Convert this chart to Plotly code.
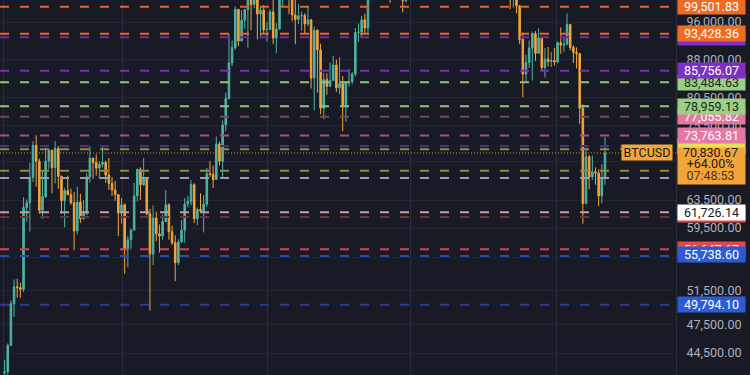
import math
import pandas as pd
import plotly.graph_objects as go

# ---------------- data (BTCUSD, 4-day candles, values in thousands USD) ----------------
start_date = "2024-02-01"
period_days = 4
first_open_k = 42.5

close_k = [42.6, 45.3, 49.9, 51.9, 51.8, 51.6, 62.4, 63.1, 66.9, 72.1,
           69.5, 62.0, 64.0, 69.5, 71.3, 68.5, 71.6, 67.1, 63.4, 64.9,
           64.3, 63.1, 59.1, 63.2, 60.8, 61.6, 67.0, 70.0, 69.3, 68.4,
           69.0, 69.3, 67.3, 66.0, 65.0, 64.3, 61.6, 62.8, 56.6, 57.9,
           59.2, 64.1, 68.2, 65.8, 66.8, 61.5, 56.0, 60.9, 58.7, 58.4,
           60.4, 62.8, 59.0, 57.5, 54.9, 57.6, 59.2, 62.9, 63.3, 65.8,
           60.8, 62.1, 61.9, 62.9, 67.5, 67.4, 66.6, 72.3, 69.5, 75.6,
           80.4, 87.3, 90.5, 98.9, 91.9, 96.4, 98.8, 101.1, 100.0, 106.0,
           97.8, 98.7, 94.3, 94.4, 98.3, 92.5, 94.5, 104.5, 106.1, 104.7,
           103.7, 97.6, 96.6, 97.4, 97.5, 95.6, 96.5, 84.3, 94.2, 90.0,
           78.6, 84.0, 82.7, 83.8, 86.9, 82.4, 83.2, 79.2, 83.4, 83.6,
           85.1, 93.7, 93.8, 96.5, 94.7, 102.9, 104.1, 103.5, 109.7, 109.0,
           105.6, 105.8, 104.3, 110.2, 105.6, 104.8, 100.9, 107.1, 107.2, 108.0,
           108.9, 117.4, 119.0, 117.3, 118.4, 118.1, 113.3, 114.1, 116.6, 123.0,
           117.4, 112.5, 110.9, 108.4, 111.2, 110.2, 113.9, 115.3, 117.1, 112.7,
           109.6, 114.0, 122.3, 123.3, 115.2, 108.2, 110.6, 111.1, 114.1, 110.1,
           103.9, 104.7, 99.7, 92.2, 85.1, 87.4, 90.4, 93.5, 89.3, 92.5,
           86.4, 88.1, 87.6, 87.8, 87.5, 91.5, 91.0, 91.2, 95.5, 90.5,
           89.5, 89.2, 78.6, 63.0, 70.2, 67.0, 67.8, 67.6, 64.1, 66.9,
           70.83067]

high_k = [43.8, 45.5, 50.3, 52.8, 52.9, 52.4, 63.9, 63.6, 69.2, 72.8,
          73.8, 69.9, 68.1, 71.7, 71.5, 71.3, 72.8, 72.0, 67.2, 65.3,
          67.2, 65.2, 64.7, 65.5, 64.4, 63.5, 67.6, 71.9, 70.0, 70.6,
          69.5, 72.0, 69.6, 70.0, 67.0, 66.4, 64.3, 63.8, 63.0, 58.4,
          59.4, 66.1, 68.3, 68.5, 70.0, 67.0, 62.2, 62.7, 61.8, 60.0,
          61.4, 65.0, 63.0, 59.8, 58.5, 58.0, 60.6, 63.8, 64.1, 66.5,
          66.0, 62.4, 64.5, 64.2, 68.4, 69.5, 68.8, 73.6, 72.7, 76.4,
          81.5, 93.5, 92.0, 99.6, 98.9, 98.7, 99.0, 103.9, 101.9, 107.8,
          108.3, 99.5, 99.9, 96.0, 98.9, 102.7, 95.8, 105.9, 109.1, 107.0,
          105.3, 106.4, 102.5, 100.1, 98.4, 98.0, 99.5, 96.7, 95.0, 94.4,
          91.3, 85.3, 85.2, 87.4, 88.8, 88.0, 88.5, 84.7, 83.6, 86.1,
          85.5, 94.7, 95.7, 97.4, 97.9, 104.1, 105.8, 104.3, 110.0, 111.9,
          110.6, 106.5, 106.8, 110.4, 110.4, 108.9, 106.1, 108.2, 108.5, 110.5,
          109.8, 118.9, 123.2, 120.9, 120.2, 120.0, 119.3, 115.8, 117.9, 123.1,
          124.5, 117.6, 117.4, 113.4, 111.4, 113.4, 114.3, 116.8, 117.9, 117.6,
          113.8, 114.7, 123.9, 126.2, 123.8, 116.0, 111.7, 114.0, 116.4, 115.9,
          111.2, 104.8, 107.0, 99.9, 93.7, 89.0, 92.0, 93.9, 94.0, 94.6,
          92.8, 90.4, 90.6, 89.6, 90.4, 91.8, 94.8, 92.5, 97.9, 95.6,
          91.0, 90.5, 89.3, 79.3, 71.7, 70.5, 70.4, 68.5, 68.2, 69.0,
          73.5]

low_k = [41.9, 42.3, 45.3, 48.4, 50.6, 50.6, 51.3, 60.4, 59.0, 66.2,
         65.5, 61.5, 60.8, 63.8, 68.2, 64.5, 66.0, 65.2, 61.5, 59.6,
         64.2, 62.8, 56.5, 58.6, 60.2, 60.7, 61.3, 66.1, 66.7, 67.2,
         66.7, 68.5, 66.1, 65.0, 64.1, 63.4, 58.4, 60.1, 53.5, 54.3,
         56.6, 59.2, 63.3, 63.5, 65.6, 61.3, 49.1, 54.6, 57.7, 56.2,
         57.9, 60.4, 57.9, 57.2, 52.6, 54.6, 57.5, 57.5, 62.4, 62.7,
         60.2, 59.9, 61.6, 58.9, 62.5, 67.0, 65.3, 66.8, 68.8, 66.8,
         74.5, 80.2, 86.7, 90.0, 90.8, 91.8, 94.5, 90.5, 94.2, 99.2,
         92.2, 92.4, 93.5, 91.8, 94.2, 91.2, 89.3, 94.3, 99.5, 101.3,
         97.8, 96.2, 91.2, 95.6, 94.1, 93.3, 95.1, 82.3, 78.2, 81.5,
         77.5, 76.6, 81.1, 82.6, 83.8, 81.6, 81.2, 74.5, 76.2, 82.6,
         83.1, 84.6, 91.7, 92.8, 93.4, 93.4, 101.0, 101.3, 102.0, 106.5,
         105.3, 103.1, 100.4, 104.0, 103.4, 103.6, 98.2, 100.5, 106.4, 105.1,
         107.3, 108.4, 115.7, 116.5, 115.8, 114.7, 112.7, 112.0, 113.0, 117.8,
         116.8, 112.4, 110.5, 107.3, 107.3, 109.3, 110.1, 113.4, 114.4, 112.0,
         108.7, 109.2, 113.9, 120.6, 102.0, 107.9, 103.5, 107.3, 110.8, 106.3,
         98.9, 99.3, 98.0, 91.2, 80.6, 83.6, 86.3, 83.8, 87.7, 89.5,
         85.8, 84.4, 86.6, 86.5, 86.8, 87.2, 89.2, 89.5, 91.0, 89.9,
         87.3, 86.2, 75.8, 60.1, 62.9, 65.1, 66.5, 65.8, 62.6, 63.0,
         65.8]

# horizontal price levels (drawn lines) and their colours
level_values = [99501.83, 93428.36, 92671.50, 85756.07, 83484.63, 78959.13,
                77055.82, 73763.81, 71988.20, 71440.00, 67950.00, 66830.00,
                61726.14, 61040.00, 56647.67, 55738.60, 49794.10]
level_colors = ["#e2642c", "#e8672b", "#6b2ca6", "#7a2cb8", "#8cc47c", "#8cc47c",
                "#7c4459", "#a44f8e", "#4b2d8a", "#8f8c3c", "#8f8c3c", "#9c9eaa",
                "#a6a8b2", "#7c2c30", "#d94444", "#2c4cae", "#263f92"]

# price labels on the scale, in drawing order (later ones cover earlier ones).
# Empty text = label fully covered in the reference, only its coloured edge shows.
label_values = [92671.50, 99501.83, 93428.36, 83484.63, 85756.07, 77055.82, 78959.13,
                71440.00, 73763.81, 61040.00, 61726.14, 56647.67, 55738.60, 49794.10]
label_texts = ["", "99,501.83", "93,428.36", "83,484.63", "85,756.07", "77,055.82",
               "78,959.13", "", "73,763.81", "", "61,726.14", "56,647.67",
               "55,738.60", "49,794.10"]
label_bg = ["#7d2fc6", "#ee6c22", "#ee6c22", "#9ccf86", "#7e2fc4", "#e8779f", "#9ccf86",
            "#e9e24c", "#e27aa6", "#e34646", "#ffffff", "#e64848", "#2b5bd9", "#2b5bd9"]
label_fg = ["#ffffff", "#ffffff", "#ffffff", "#1b2a16", "#ffffff", "#ffffff", "#1b2a16",
            "#2a2a10", "#ffffff", "#ffffff", "#131722", "#ffffff", "#ffffff", "#ffffff"]
label_nudge = [0, 0, 0, 0, 0, 0, 0, 3, 0, 3, 0, 0, 2, 0]

last_price = 70830.67
last_change = "+64.00%"
last_countdown = "07:48:53"
symbol = "BTCUSD"

# right-scale ticks (texts of ticks that sit fully under a price label are blank)
tick_values = [96000, 88000, 80500, 75500, 69500, 63500, 59500, 55500, 51500, 47500, 44500]
tick_hidden = [69500, 55500]
tick_texts = ["" if v in tick_hidden else f"{v:,.2f}" for v in tick_values]
vgrid_dates = ["2024-02-01", "2024-07-01", "2025-01-01", "2025-07-01", "2026-01-01"]

# ---------------- styling ----------------
BG = "#181b26"
UP = "#4fb3a2"
DOWN = "#f2a53a"
FONT = "Roboto"
y_lo, y_hi = 42287, 101060
t0 = pd.Timestamp(start_date)
x_lo = t0 - pd.Timedelta(days=3.8)
x_hi = t0 + pd.Timedelta(days=851.9)

n = len(close_k)
dates = [t0 + pd.Timedelta(days=period_days * i + period_days / 2) for i in range(n)]
opens = [first_open_k] + close_k[:-1]
o = [v * 1000 for v in opens]
c = [v * 1000 for v in close_k]
h = [max(a, b, v * 1000) for a, b, v in zip(o, c, high_k)]
l = [min(a, b, v * 1000) for a, b, v in zip(o, c, low_k)]

fig = go.Figure()
fig.add_trace(go.Candlestick(
    x=dates, open=o, high=h, low=l, close=c,
    increasing=dict(line=dict(color=UP, width=1), fillcolor=UP),
    decreasing=dict(line=dict(color=DOWN, width=1), fillcolor=DOWN),
    whiskerwidth=0, hoverinfo="skip", showlegend=False,
))

for v, col in zip(level_values, level_colors):
    fig.add_trace(go.Scatter(
        x=[x_lo, x_hi], y=[v, v], mode="lines",
        line=dict(color=col, width=2, dash="9px,11px"),
        hoverinfo="skip", showlegend=False,
    ))

fig.add_trace(go.Scatter(
    x=[x_lo, x_hi], y=[last_price, last_price], mode="lines",
    line=dict(color="#d08f34", width=1, dash="1px,2px"),
    hoverinfo="skip", showlegend=False,
))

annotations = []
label_font = dict(family=FONT, size=12.5)
for v, txt, bg, fg, nud in zip(label_values, label_texts, label_bg, label_fg, label_nudge):
    annotations.append(dict(
        xref="paper", yref="y", x=1, y=math.log10(v), xanchor="left", yanchor="middle",
        xshift=1, yshift=nud, text=txt if txt else " ", showarrow=False, width=65, height=13,
        borderpad=1, bgcolor=bg, font=dict(label_font, color=fg), align="center",
    ))
    if v == 73763.81:
        # last price box with its three lines, and the symbol tag
        ly = math.log10(last_price)
        annotations.append(dict(
            xref="paper", yref="y", x=1, y=ly, xanchor="left", yanchor="top",
            xshift=1, yshift=6, text=" ", showarrow=False, width=65, height=34, borderpad=1,
            bgcolor="#f4a53a", font=label_font,
        ))
        for k, (t, colr) in enumerate([(f"{last_price:,.2f}", "#1c1a16"),
                                        (last_change, "#1c1a16"),
                                        (last_countdown, "#4a3516")]):
            annotations.append(dict(
                xref="paper", yref="y", x=1, y=ly, xanchor="left", yanchor="middle",
                xshift=1, yshift=-11 * k - (1 if k == 2 else 0), text=t, showarrow=False,
                width=65, height=11, borderpad=0, font=dict(label_font, color=colr),
                align="center",
            ))
        annotations.append(dict(
            xref="paper", yref="y", x=673 / 676, y=ly, xanchor="right", yanchor="middle",
            text=symbol, showarrow=False, width=48, height=13, borderpad=1,
            bgcolor="#f4a53a", font=dict(label_font, color="#1c1a16"), align="center",
        ))

fig.update_layout(
    width=750, height=375,
    margin=dict(l=0, r=74, t=0, b=0, pad=0),
    paper_bgcolor=BG, plot_bgcolor=BG,
    showlegend=False,
    annotations=annotations,
    xaxis=dict(
        type="date", range=[x_lo, x_hi], tickvals=vgrid_dates, showticklabels=False,
        showgrid=True, gridcolor="#2a2d39", gridwidth=1, zeroline=False, showline=False,
        rangeslider=dict(visible=False), fixedrange=True, ticks="",
    ),
    yaxis=dict(
        type="log", range=[math.log10(y_lo), math.log10(y_hi)], side="right",
        tickvals=tick_values, ticktext=tick_texts, ticks="",
        tickfont=dict(family=FONT, size=12.5, color="#aeb1ba"),
        showgrid=True, gridcolor="#23262f", gridwidth=1, zeroline=False,
        showline=True, linecolor="#2c2f3a", linewidth=1, ticklabelstandoff=7,
        fixedrange=True,
    ),
)

fig.write_html("out.html", config={"displayModeBar": False})
